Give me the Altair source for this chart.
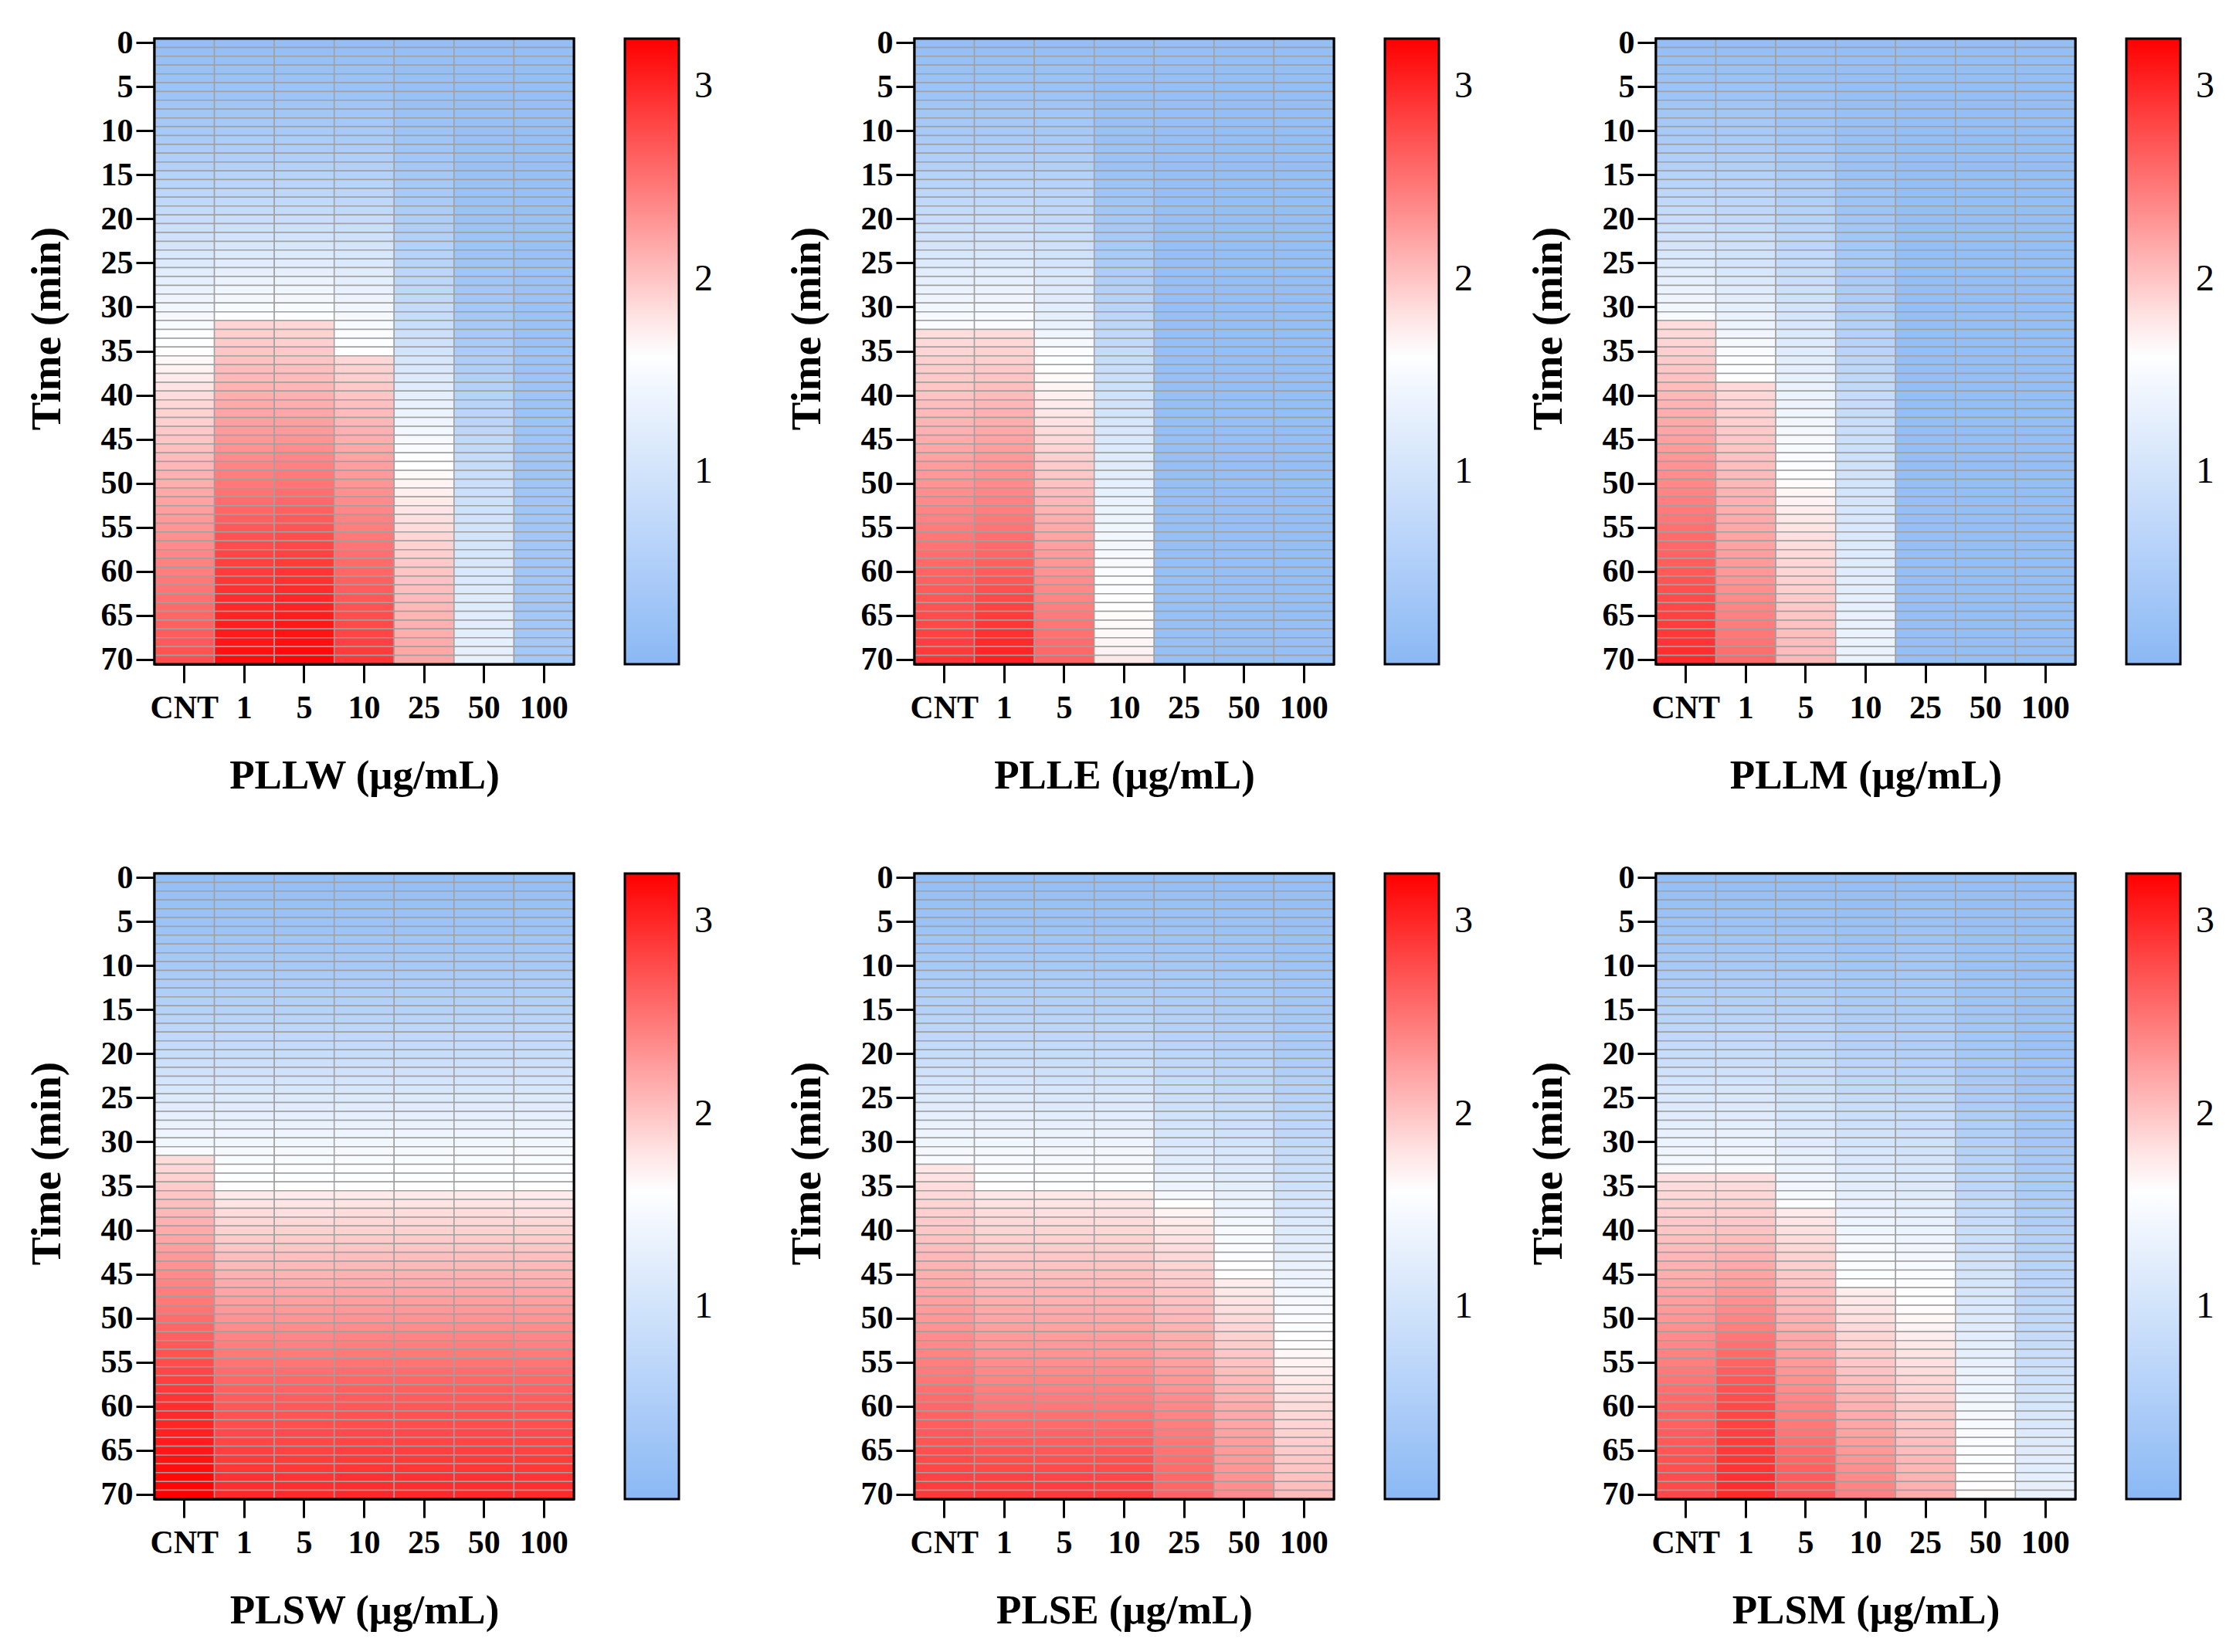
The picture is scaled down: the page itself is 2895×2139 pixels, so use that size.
import pandas as pd
import altair as alt

# Time axis (min) and concentrations (µg/mL)
TIMES = [
    0, 1, 2, 3, 4, 5, 6, 7, 8, 9, 10, 11, 12, 13, 14, 15, 16, 17, 18, 19,
    20, 21, 22, 23, 24, 25, 26, 27, 28, 29, 30, 31, 32, 33, 34, 35, 36, 37, 38, 39,
    40, 41, 42, 43, 44, 45, 46, 47, 48, 49, 50, 51, 52, 53, 54, 55, 56, 57, 58, 59,
    60, 61, 62, 63, 64, 65, 66, 67, 68, 69, 70,
]
TIME_TICKS = [0, 5, 10, 15, 20, 25, 30, 35, 40, 45, 50, 55, 60, 65, 70]
CONCS = ["CNT", "1", "5", "10", "25", "50", "100"]
LEGEND_TICKS = [1, 2, 3]

# Values per panel: one list per concentration (CNT, 1, 5, 10, 25, 50, 100), 0..70 min
PLLW = [
    [0.14, 0.16, 0.18, 0.20, 0.22, 0.25, 0.28, 0.31, 0.34, 0.37,
     0.40, 0.44, 0.48, 0.52, 0.56, 0.60, 0.65, 0.70, 0.75, 0.80,
     0.85, 0.91, 0.97, 1.03, 1.09, 1.15, 1.21, 1.27, 1.33, 1.39,
     1.45, 1.49, 1.53, 1.57, 1.60, 1.63, 1.67, 1.71, 1.75, 1.80,
     1.85, 1.88, 1.91, 1.94, 1.97, 2.00, 2.03, 2.06, 2.09, 2.12,
     2.15, 2.18, 2.21, 2.24, 2.27, 2.30, 2.33, 2.36, 2.39, 2.42,
     2.45, 2.48, 2.51, 2.54, 2.57, 2.60, 2.63, 2.66, 2.69, 2.72,
     2.75],
    [0.14, 0.16, 0.18, 0.20, 0.22, 0.25, 0.28, 0.31, 0.34, 0.37,
     0.41, 0.45, 0.49, 0.53, 0.57, 0.61, 0.66, 0.71, 0.76, 0.81,
     0.86, 0.93, 1.00, 1.07, 1.14, 1.21, 1.28, 1.35, 1.41, 1.47,
     1.52, 1.58, 1.90, 1.93, 1.96, 1.99, 2.02, 2.05, 2.08, 2.11,
     2.14, 2.17, 2.20, 2.23, 2.26, 2.29, 2.32, 2.36, 2.40, 2.44,
     2.48, 2.52, 2.56, 2.60, 2.64, 2.68, 2.72, 2.76, 2.80, 2.84,
     2.87, 2.90, 2.93, 2.96, 2.99, 3.02, 3.05, 3.08, 3.11, 3.14,
     3.17],
    [0.14, 0.16, 0.18, 0.20, 0.22, 0.25, 0.28, 0.31, 0.34, 0.37,
     0.41, 0.45, 0.49, 0.53, 0.57, 0.61, 0.66, 0.71, 0.76, 0.81,
     0.86, 0.93, 1.00, 1.07, 1.14, 1.21, 1.28, 1.35, 1.41, 1.47,
     1.52, 1.57, 1.88, 1.91, 1.94, 1.97, 2.00, 2.03, 2.06, 2.09,
     2.12, 2.15, 2.19, 2.23, 2.27, 2.31, 2.35, 2.39, 2.43, 2.47,
     2.51, 2.55, 2.59, 2.63, 2.67, 2.71, 2.75, 2.79, 2.83, 2.87,
     2.91, 2.94, 2.97, 3.00, 3.03, 3.06, 3.09, 3.12, 3.15, 3.18,
     3.21],
    [0.14, 0.16, 0.18, 0.20, 0.22, 0.24, 0.27, 0.30, 0.33, 0.36,
     0.39, 0.43, 0.47, 0.51, 0.55, 0.59, 0.63, 0.68, 0.73, 0.78,
     0.83, 0.89, 0.95, 1.01, 1.07, 1.13, 1.19, 1.25, 1.31, 1.37,
     1.43, 1.48, 1.52, 1.56, 1.59, 1.62, 1.88, 1.91, 1.94, 1.97,
     2.00, 2.03, 2.06, 2.09, 2.12, 2.15, 2.18, 2.21, 2.24, 2.27,
     2.30, 2.33, 2.36, 2.39, 2.42, 2.45, 2.48, 2.51, 2.54, 2.57,
     2.60, 2.63, 2.66, 2.69, 2.72, 2.75, 2.78, 2.81, 2.84, 2.87,
     2.90],
    [0.14, 0.15, 0.16, 0.17, 0.18, 0.19, 0.20, 0.21, 0.23, 0.25,
     0.27, 0.29, 0.31, 0.33, 0.35, 0.37, 0.39, 0.41, 0.44, 0.47,
     0.50, 0.53, 0.56, 0.59, 0.62, 0.65, 0.68, 0.71, 0.74, 0.77,
     0.80, 0.84, 0.88, 0.92, 0.96, 1.00, 1.05, 1.10, 1.15, 1.20,
     1.25, 1.30, 1.35, 1.40, 1.45, 1.50, 1.54, 1.58, 1.62, 1.66,
     1.70, 1.73, 1.76, 1.79, 1.82, 1.85, 1.88, 1.91, 1.94, 1.97,
     2.00, 2.02, 2.04, 2.06, 2.08, 2.10, 2.12, 2.14, 2.16, 2.18,
     2.20],
    [0.14, 0.14, 0.15, 0.15, 0.16, 0.16, 0.17, 0.17, 0.18, 0.18,
     0.19, 0.19, 0.20, 0.20, 0.21, 0.21, 0.22, 0.22, 0.23, 0.23,
     0.24, 0.25, 0.26, 0.27, 0.28, 0.29, 0.30, 0.31, 0.32, 0.33,
     0.35, 0.37, 0.39, 0.41, 0.43, 0.45, 0.48, 0.51, 0.54, 0.57,
     0.60, 0.63, 0.66, 0.69, 0.72, 0.75, 0.78, 0.81, 0.84, 0.87,
     0.90, 0.92, 0.94, 0.96, 0.98, 1.00, 1.02, 1.04, 1.06, 1.08,
     1.10, 1.12, 1.14, 1.16, 1.18, 1.20, 1.22, 1.24, 1.26, 1.28,
     1.30],
    [0.13, 0.13, 0.14, 0.14, 0.14, 0.15, 0.15, 0.15, 0.16, 0.16,
     0.16, 0.17, 0.17, 0.17, 0.18, 0.18, 0.18, 0.19, 0.19, 0.19,
     0.20, 0.20, 0.20, 0.21, 0.21, 0.21, 0.22, 0.22, 0.22, 0.23,
     0.23, 0.23, 0.24, 0.24, 0.24, 0.25, 0.25, 0.25, 0.26, 0.26,
     0.26, 0.27, 0.27, 0.27, 0.28, 0.28, 0.28, 0.29, 0.29, 0.29,
     0.30, 0.30, 0.30, 0.31, 0.31, 0.31, 0.32, 0.32, 0.32, 0.33,
     0.33, 0.33, 0.34, 0.34, 0.34, 0.35, 0.35, 0.35, 0.36, 0.36,
     0.36],
]

PLLE = [
    [0.14, 0.16, 0.18, 0.20, 0.22, 0.25, 0.28, 0.31, 0.34, 0.37,
     0.40, 0.44, 0.48, 0.52, 0.56, 0.60, 0.65, 0.70, 0.75, 0.80,
     0.85, 0.91, 0.97, 1.03, 1.09, 1.15, 1.21, 1.27, 1.33, 1.39,
     1.45, 1.50, 1.55, 1.84, 1.87, 1.90, 1.93, 1.95, 1.97, 1.99,
     2.01, 2.04, 2.07, 2.10, 2.13, 2.16, 2.19, 2.22, 2.25, 2.28,
     2.31, 2.34, 2.37, 2.40, 2.43, 2.46, 2.49, 2.52, 2.55, 2.58,
     2.61, 2.64, 2.67, 2.70, 2.73, 2.76, 2.79, 2.82, 2.85, 2.88,
     2.91],
    [0.14, 0.16, 0.18, 0.20, 0.22, 0.25, 0.28, 0.31, 0.34, 0.37,
     0.40, 0.44, 0.48, 0.52, 0.56, 0.60, 0.65, 0.70, 0.75, 0.80,
     0.85, 0.91, 0.97, 1.03, 1.09, 1.15, 1.21, 1.27, 1.33, 1.39,
     1.45, 1.50, 1.55, 1.85, 1.88, 1.91, 1.94, 1.97, 2.00, 2.03,
     2.06, 2.09, 2.12, 2.15, 2.18, 2.21, 2.24, 2.27, 2.30, 2.33,
     2.36, 2.39, 2.42, 2.45, 2.48, 2.51, 2.54, 2.57, 2.60, 2.63,
     2.66, 2.70, 2.74, 2.78, 2.82, 2.86, 2.90, 2.94, 2.98, 3.01,
     3.04],
    [0.14, 0.16, 0.18, 0.20, 0.22, 0.24, 0.26, 0.29, 0.32, 0.35,
     0.38, 0.42, 0.46, 0.50, 0.54, 0.58, 0.62, 0.66, 0.70, 0.74,
     0.78, 0.83, 0.88, 0.93, 0.98, 1.03, 1.08, 1.12, 1.16, 1.19,
     1.22, 1.27, 1.32, 1.40, 1.48, 1.55, 1.60, 1.63, 1.66, 1.69,
     1.72, 1.75, 1.78, 1.81, 1.84, 1.87, 1.90, 1.93, 1.96, 1.99,
     2.02, 2.05, 2.08, 2.11, 2.14, 2.17, 2.20, 2.23, 2.26, 2.29,
     2.32, 2.35, 2.38, 2.41, 2.44, 2.47, 2.50, 2.53, 2.56, 2.59,
     2.62],
    [0.14, 0.14, 0.15, 0.15, 0.16, 0.16, 0.17, 0.17, 0.18, 0.19,
     0.20, 0.21, 0.22, 0.23, 0.24, 0.25, 0.27, 0.29, 0.31, 0.33,
     0.35, 0.37, 0.39, 0.41, 0.43, 0.46, 0.49, 0.52, 0.56, 0.60,
     0.64, 0.68, 0.72, 0.75, 0.78, 0.81, 0.84, 0.87, 0.90, 0.93,
     0.96, 0.99, 1.02, 1.05, 1.08, 1.11, 1.14, 1.17, 1.20, 1.23,
     1.26, 1.29, 1.32, 1.35, 1.38, 1.41, 1.44, 1.47, 1.50, 1.53,
     1.55, 1.57, 1.59, 1.61, 1.63, 1.65, 1.66, 1.67, 1.69, 1.71,
     1.78],
    [0.15, 0.15, 0.15, 0.15, 0.15, 0.15, 0.15, 0.15, 0.15, 0.15,
     0.15, 0.15, 0.15, 0.15, 0.15, 0.15, 0.15, 0.15, 0.15, 0.15,
     0.15, 0.15, 0.15, 0.15, 0.15, 0.15, 0.15, 0.15, 0.15, 0.15,
     0.15, 0.15, 0.15, 0.15, 0.15, 0.15, 0.15, 0.16, 0.16, 0.16,
     0.16, 0.16, 0.16, 0.16, 0.16, 0.16, 0.16, 0.16, 0.16, 0.16,
     0.17, 0.17, 0.17, 0.17, 0.17, 0.17, 0.17, 0.17, 0.17, 0.17,
     0.18, 0.18, 0.18, 0.18, 0.18, 0.18, 0.18, 0.18, 0.18, 0.18,
     0.18],
    [0.14, 0.14, 0.14, 0.14, 0.14, 0.14, 0.14, 0.14, 0.14, 0.14,
     0.14, 0.14, 0.14, 0.14, 0.14, 0.14, 0.14, 0.14, 0.14, 0.14,
     0.14, 0.14, 0.14, 0.14, 0.14, 0.14, 0.14, 0.14, 0.14, 0.14,
     0.14, 0.14, 0.14, 0.14, 0.14, 0.14, 0.14, 0.14, 0.14, 0.14,
     0.14, 0.15, 0.15, 0.15, 0.15, 0.15, 0.15, 0.15, 0.15, 0.15,
     0.15, 0.15, 0.15, 0.15, 0.15, 0.15, 0.15, 0.15, 0.15, 0.15,
     0.15, 0.15, 0.15, 0.15, 0.16, 0.16, 0.16, 0.16, 0.16, 0.16,
     0.16],
    [0.13, 0.13, 0.13, 0.13, 0.13, 0.13, 0.13, 0.13, 0.13, 0.13,
     0.13, 0.13, 0.13, 0.13, 0.13, 0.13, 0.13, 0.13, 0.13, 0.13,
     0.13, 0.13, 0.13, 0.13, 0.13, 0.13, 0.13, 0.13, 0.13, 0.13,
     0.13, 0.13, 0.13, 0.13, 0.13, 0.13, 0.13, 0.13, 0.13, 0.13,
     0.13, 0.13, 0.13, 0.13, 0.13, 0.14, 0.14, 0.14, 0.14, 0.14,
     0.14, 0.14, 0.14, 0.14, 0.14, 0.14, 0.14, 0.14, 0.14, 0.14,
     0.14, 0.14, 0.14, 0.14, 0.14, 0.14, 0.15, 0.15, 0.15, 0.15,
     0.15],
]

PLLM = [
    [0.14, 0.16, 0.18, 0.20, 0.22, 0.25, 0.28, 0.31, 0.34, 0.37,
     0.40, 0.44, 0.48, 0.52, 0.56, 0.60, 0.65, 0.70, 0.75, 0.80,
     0.85, 0.91, 0.97, 1.03, 1.09, 1.15, 1.21, 1.27, 1.33, 1.39,
     1.45, 1.52, 1.84, 1.87, 1.90, 1.93, 1.96, 1.99, 2.02, 2.05,
     2.08, 2.11, 2.14, 2.17, 2.20, 2.23, 2.26, 2.29, 2.32, 2.35,
     2.38, 2.41, 2.44, 2.47, 2.50, 2.53, 2.56, 2.59, 2.62, 2.65,
     2.68, 2.71, 2.74, 2.77, 2.80, 2.83, 2.86, 2.89, 2.92, 2.95,
     2.98],
    [0.14, 0.16, 0.18, 0.20, 0.22, 0.25, 0.28, 0.31, 0.34, 0.37,
     0.40, 0.43, 0.46, 0.50, 0.54, 0.58, 0.62, 0.66, 0.70, 0.74,
     0.78, 0.83, 0.88, 0.93, 0.98, 1.03, 1.08, 1.13, 1.18, 1.23,
     1.28, 1.33, 1.38, 1.43, 1.48, 1.53, 1.57, 1.60, 1.63, 1.86,
     1.88, 1.90, 1.92, 1.94, 1.96, 1.98, 2.00, 2.02, 2.04, 2.06,
     2.08, 2.10, 2.12, 2.14, 2.16, 2.18, 2.20, 2.22, 2.24, 2.26,
     2.28, 2.31, 2.34, 2.37, 2.40, 2.43, 2.46, 2.49, 2.52, 2.55,
     2.58],
    [0.14, 0.15, 0.16, 0.17, 0.18, 0.20, 0.22, 0.24, 0.26, 0.28,
     0.30, 0.33, 0.36, 0.39, 0.42, 0.45, 0.48, 0.51, 0.54, 0.57,
     0.60, 0.64, 0.68, 0.72, 0.76, 0.80, 0.84, 0.88, 0.92, 0.96,
     1.00, 1.04, 1.08, 1.12, 1.16, 1.20, 1.23, 1.26, 1.29, 1.32,
     1.35, 1.38, 1.41, 1.44, 1.47, 1.50, 1.53, 1.56, 1.59, 1.62,
     1.65, 1.68, 1.71, 1.74, 1.77, 1.80, 1.82, 1.84, 1.86, 1.88,
     1.90, 1.92, 1.94, 1.96, 1.98, 2.00, 2.02, 2.04, 2.05, 2.06,
     2.08],
    [0.14, 0.14, 0.15, 0.15, 0.16, 0.16, 0.17, 0.17, 0.18, 0.18,
     0.19, 0.20, 0.21, 0.22, 0.23, 0.24, 0.25, 0.26, 0.27, 0.28,
     0.30, 0.32, 0.34, 0.36, 0.38, 0.40, 0.42, 0.44, 0.46, 0.48,
     0.50, 0.53, 0.56, 0.59, 0.62, 0.65, 0.68, 0.71, 0.74, 0.77,
     0.80, 0.82, 0.84, 0.86, 0.88, 0.90, 0.92, 0.94, 0.96, 0.98,
     1.00, 1.02, 1.04, 1.06, 1.08, 1.10, 1.12, 1.14, 1.16, 1.18,
     1.20, 1.22, 1.24, 1.26, 1.28, 1.30, 1.31, 1.32, 1.33, 1.34,
     1.35],
    [0.14, 0.14, 0.14, 0.14, 0.14, 0.14, 0.14, 0.14, 0.14, 0.14,
     0.14, 0.14, 0.14, 0.14, 0.14, 0.14, 0.14, 0.14, 0.14, 0.14,
     0.14, 0.14, 0.14, 0.14, 0.14, 0.14, 0.14, 0.14, 0.14, 0.14,
     0.14, 0.14, 0.14, 0.14, 0.14, 0.14, 0.14, 0.14, 0.14, 0.14,
     0.14, 0.14, 0.14, 0.14, 0.14, 0.14, 0.14, 0.14, 0.14, 0.14,
     0.15, 0.15, 0.15, 0.15, 0.15, 0.15, 0.15, 0.15, 0.15, 0.15,
     0.15, 0.15, 0.15, 0.15, 0.15, 0.15, 0.15, 0.15, 0.15, 0.15,
     0.15],
    [0.13, 0.13, 0.13, 0.13, 0.13, 0.13, 0.13, 0.13, 0.13, 0.13,
     0.13, 0.13, 0.13, 0.13, 0.13, 0.13, 0.13, 0.13, 0.13, 0.13,
     0.13, 0.13, 0.13, 0.13, 0.13, 0.13, 0.13, 0.13, 0.13, 0.13,
     0.13, 0.13, 0.13, 0.13, 0.13, 0.13, 0.13, 0.13, 0.13, 0.13,
     0.13, 0.13, 0.13, 0.13, 0.13, 0.13, 0.13, 0.13, 0.13, 0.13,
     0.13, 0.13, 0.13, 0.13, 0.13, 0.14, 0.14, 0.14, 0.14, 0.14,
     0.14, 0.14, 0.14, 0.14, 0.14, 0.14, 0.14, 0.14, 0.14, 0.14,
     0.14],
    [0.13, 0.13, 0.13, 0.13, 0.13, 0.13, 0.13, 0.13, 0.13, 0.13,
     0.13, 0.13, 0.13, 0.13, 0.13, 0.13, 0.13, 0.13, 0.13, 0.13,
     0.13, 0.13, 0.13, 0.13, 0.13, 0.13, 0.13, 0.13, 0.13, 0.13,
     0.13, 0.13, 0.13, 0.13, 0.13, 0.13, 0.13, 0.13, 0.13, 0.13,
     0.13, 0.13, 0.13, 0.13, 0.13, 0.13, 0.13, 0.13, 0.13, 0.13,
     0.13, 0.13, 0.13, 0.13, 0.13, 0.13, 0.13, 0.13, 0.13, 0.13,
     0.13, 0.13, 0.13, 0.13, 0.13, 0.14, 0.14, 0.14, 0.14, 0.14,
     0.14],
]

PLSW = [
    [0.14, 0.16, 0.18, 0.20, 0.22, 0.25, 0.28, 0.31, 0.34, 0.37,
     0.40, 0.44, 0.48, 0.52, 0.56, 0.60, 0.65, 0.70, 0.75, 0.80,
     0.85, 0.91, 0.97, 1.03, 1.09, 1.15, 1.21, 1.27, 1.33, 1.39,
     1.45, 1.52, 1.84, 1.88, 1.92, 1.96, 2.00, 2.04, 2.08, 2.12,
     2.16, 2.20, 2.24, 2.28, 2.32, 2.36, 2.40, 2.44, 2.48, 2.52,
     2.56, 2.60, 2.64, 2.68, 2.72, 2.76, 2.80, 2.84, 2.88, 2.92,
     2.95, 2.98, 3.01, 3.04, 3.07, 3.10, 3.13, 3.16, 3.19, 3.22,
     3.25],
    [0.14, 0.16, 0.18, 0.20, 0.22, 0.25, 0.28, 0.31, 0.34, 0.37,
     0.40, 0.44, 0.48, 0.52, 0.56, 0.60, 0.65, 0.70, 0.75, 0.80,
     0.85, 0.91, 0.97, 1.03, 1.09, 1.15, 1.21, 1.27, 1.33, 1.39,
     1.45, 1.49, 1.53, 1.57, 1.60, 1.63, 1.76, 1.80, 1.84, 1.88,
     1.92, 1.96, 2.00, 2.04, 2.08, 2.12, 2.16, 2.20, 2.24, 2.28,
     2.32, 2.36, 2.40, 2.44, 2.48, 2.52, 2.56, 2.60, 2.63, 2.66,
     2.69, 2.72, 2.75, 2.78, 2.81, 2.84, 2.87, 2.90, 2.93, 2.96,
     2.99],
    [0.14, 0.16, 0.18, 0.20, 0.22, 0.25, 0.28, 0.31, 0.34, 0.37,
     0.40, 0.44, 0.48, 0.52, 0.56, 0.60, 0.65, 0.70, 0.75, 0.80,
     0.85, 0.91, 0.97, 1.03, 1.09, 1.15, 1.21, 1.27, 1.33, 1.39,
     1.45, 1.49, 1.53, 1.57, 1.60, 1.63, 1.75, 1.79, 1.83, 1.87,
     1.91, 1.95, 1.99, 2.03, 2.07, 2.11, 2.15, 2.19, 2.23, 2.27,
     2.31, 2.35, 2.39, 2.43, 2.47, 2.51, 2.55, 2.59, 2.62, 2.65,
     2.68, 2.71, 2.74, 2.77, 2.80, 2.83, 2.86, 2.89, 2.92, 2.95,
     2.98],
    [0.14, 0.16, 0.18, 0.20, 0.22, 0.25, 0.28, 0.31, 0.34, 0.37,
     0.40, 0.44, 0.48, 0.52, 0.56, 0.60, 0.65, 0.70, 0.75, 0.80,
     0.85, 0.91, 0.97, 1.03, 1.09, 1.15, 1.21, 1.27, 1.33, 1.39,
     1.45, 1.49, 1.53, 1.57, 1.60, 1.63, 1.76, 1.80, 1.84, 1.88,
     1.92, 1.96, 2.00, 2.04, 2.08, 2.12, 2.16, 2.20, 2.24, 2.28,
     2.32, 2.36, 2.40, 2.44, 2.48, 2.52, 2.56, 2.60, 2.63, 2.66,
     2.69, 2.72, 2.75, 2.78, 2.81, 2.84, 2.87, 2.90, 2.93, 2.96,
     2.99],
    [0.14, 0.16, 0.18, 0.20, 0.22, 0.25, 0.28, 0.31, 0.34, 0.37,
     0.40, 0.44, 0.48, 0.52, 0.56, 0.60, 0.65, 0.70, 0.75, 0.80,
     0.85, 0.91, 0.97, 1.03, 1.09, 1.15, 1.21, 1.27, 1.33, 1.39,
     1.45, 1.49, 1.53, 1.57, 1.60, 1.63, 1.76, 1.80, 1.84, 1.88,
     1.92, 1.96, 2.00, 2.04, 2.08, 2.12, 2.16, 2.20, 2.24, 2.28,
     2.32, 2.36, 2.40, 2.44, 2.48, 2.52, 2.56, 2.60, 2.63, 2.66,
     2.69, 2.72, 2.75, 2.78, 2.81, 2.84, 2.87, 2.90, 2.93, 2.96,
     2.99],
    [0.14, 0.16, 0.18, 0.20, 0.22, 0.25, 0.28, 0.31, 0.34, 0.37,
     0.40, 0.44, 0.48, 0.52, 0.56, 0.60, 0.65, 0.70, 0.75, 0.80,
     0.85, 0.91, 0.97, 1.03, 1.09, 1.15, 1.21, 1.27, 1.33, 1.39,
     1.45, 1.49, 1.53, 1.57, 1.60, 1.63, 1.76, 1.80, 1.84, 1.88,
     1.92, 1.96, 2.00, 2.04, 2.08, 2.12, 2.16, 2.20, 2.24, 2.28,
     2.32, 2.36, 2.40, 2.44, 2.48, 2.52, 2.56, 2.60, 2.63, 2.66,
     2.69, 2.72, 2.75, 2.78, 2.81, 2.84, 2.87, 2.90, 2.93, 2.96,
     2.99],
    [0.14, 0.16, 0.18, 0.20, 0.22, 0.25, 0.28, 0.31, 0.34, 0.37,
     0.40, 0.44, 0.48, 0.52, 0.56, 0.60, 0.65, 0.70, 0.75, 0.80,
     0.85, 0.91, 0.97, 1.03, 1.09, 1.15, 1.21, 1.27, 1.33, 1.39,
     1.45, 1.49, 1.53, 1.57, 1.60, 1.63, 1.75, 1.79, 1.83, 1.87,
     1.91, 1.95, 1.99, 2.03, 2.07, 2.11, 2.15, 2.19, 2.23, 2.27,
     2.31, 2.35, 2.39, 2.43, 2.47, 2.51, 2.55, 2.59, 2.62, 2.65,
     2.68, 2.71, 2.74, 2.77, 2.80, 2.83, 2.86, 2.89, 2.92, 2.95,
     2.98],
]

PLSE = [
    [0.14, 0.16, 0.18, 0.20, 0.22, 0.24, 0.27, 0.30, 0.33, 0.36,
     0.39, 0.43, 0.47, 0.51, 0.55, 0.59, 0.64, 0.69, 0.74, 0.79,
     0.84, 0.90, 0.96, 1.02, 1.08, 1.14, 1.20, 1.26, 1.32, 1.37,
     1.42, 1.47, 1.52, 1.78, 1.81, 1.84, 1.87, 1.90, 1.93, 1.96,
     1.99, 2.02, 2.05, 2.08, 2.11, 2.14, 2.17, 2.20, 2.23, 2.26,
     2.29, 2.32, 2.35, 2.38, 2.41, 2.44, 2.47, 2.50, 2.53, 2.56,
     2.59, 2.62, 2.65, 2.68, 2.71, 2.74, 2.77, 2.80, 2.83, 2.86,
     2.89],
    [0.14, 0.16, 0.18, 0.20, 0.22, 0.24, 0.27, 0.30, 0.33, 0.36,
     0.39, 0.43, 0.47, 0.51, 0.55, 0.59, 0.64, 0.69, 0.74, 0.79,
     0.84, 0.90, 0.96, 1.02, 1.08, 1.14, 1.20, 1.26, 1.31, 1.36,
     1.41, 1.46, 1.51, 1.55, 1.58, 1.61, 1.78, 1.81, 1.84, 1.87,
     1.90, 1.93, 1.96, 1.99, 2.02, 2.05, 2.08, 2.11, 2.14, 2.17,
     2.20, 2.23, 2.26, 2.29, 2.32, 2.35, 2.38, 2.41, 2.44, 2.47,
     2.50, 2.54, 2.58, 2.62, 2.66, 2.70, 2.74, 2.78, 2.82, 2.86,
     2.90],
    [0.14, 0.16, 0.18, 0.20, 0.22, 0.24, 0.27, 0.30, 0.33, 0.36,
     0.39, 0.43, 0.47, 0.51, 0.55, 0.59, 0.64, 0.69, 0.74, 0.79,
     0.84, 0.89, 0.94, 0.99, 1.05, 1.11, 1.17, 1.23, 1.29, 1.35,
     1.40, 1.45, 1.50, 1.54, 1.57, 1.60, 1.77, 1.80, 1.83, 1.86,
     1.89, 1.92, 1.95, 1.98, 2.01, 2.04, 2.07, 2.10, 2.13, 2.16,
     2.19, 2.22, 2.25, 2.28, 2.31, 2.34, 2.37, 2.40, 2.43, 2.46,
     2.49, 2.53, 2.57, 2.61, 2.65, 2.69, 2.73, 2.77, 2.81, 2.85,
     2.88],
    [0.14, 0.16, 0.18, 0.20, 0.22, 0.24, 0.26, 0.29, 0.32, 0.35,
     0.38, 0.42, 0.46, 0.50, 0.54, 0.58, 0.63, 0.68, 0.73, 0.78,
     0.83, 0.88, 0.93, 0.98, 1.04, 1.10, 1.16, 1.22, 1.28, 1.34,
     1.39, 1.44, 1.49, 1.53, 1.57, 1.60, 1.76, 1.79, 1.82, 1.85,
     1.88, 1.91, 1.94, 1.97, 2.00, 2.03, 2.06, 2.09, 2.12, 2.15,
     2.18, 2.21, 2.24, 2.27, 2.30, 2.33, 2.36, 2.39, 2.42, 2.45,
     2.48, 2.52, 2.56, 2.60, 2.64, 2.68, 2.72, 2.76, 2.80, 2.83,
     2.86],
    [0.14, 0.16, 0.18, 0.20, 0.22, 0.24, 0.26, 0.28, 0.31, 0.34,
     0.37, 0.40, 0.43, 0.46, 0.49, 0.52, 0.55, 0.58, 0.62, 0.66,
     0.70, 0.74, 0.78, 0.82, 0.86, 0.90, 0.94, 0.98, 1.02, 1.06,
     1.10, 1.15, 1.20, 1.26, 1.32, 1.38, 1.48, 1.62, 1.70, 1.75,
     1.78, 1.81, 1.84, 1.87, 1.90, 1.93, 1.96, 1.99, 2.02, 2.05,
     2.08, 2.11, 2.14, 2.17, 2.20, 2.23, 2.26, 2.29, 2.32, 2.35,
     2.38, 2.41, 2.44, 2.47, 2.50, 2.52, 2.54, 2.56, 2.58, 2.60,
     2.62],
    [0.14, 0.15, 0.16, 0.18, 0.20, 0.22, 0.24, 0.26, 0.28, 0.30,
     0.32, 0.35, 0.38, 0.41, 0.44, 0.47, 0.50, 0.53, 0.56, 0.58,
     0.60, 0.64, 0.68, 0.72, 0.76, 0.80, 0.84, 0.88, 0.92, 0.96,
     1.00, 1.05, 1.10, 1.15, 1.20, 1.25, 1.30, 1.35, 1.40, 1.45,
     1.50, 1.53, 1.56, 1.59, 1.61, 1.63, 1.74, 1.77, 1.80, 1.83,
     1.86, 1.89, 1.92, 1.95, 1.98, 2.01, 2.04, 2.07, 2.10, 2.13,
     2.16, 2.18, 2.20, 2.22, 2.24, 2.26, 2.28, 2.30, 2.32, 2.34,
     2.36],
    [0.14, 0.15, 0.16, 0.17, 0.18, 0.19, 0.20, 0.21, 0.22, 0.24,
     0.26, 0.28, 0.30, 0.32, 0.34, 0.36, 0.38, 0.40, 0.42, 0.44,
     0.46, 0.49, 0.52, 0.55, 0.58, 0.61, 0.64, 0.67, 0.70, 0.73,
     0.76, 0.80, 0.84, 0.88, 0.92, 0.96, 1.00, 1.04, 1.08, 1.12,
     1.16, 1.20, 1.24, 1.28, 1.32, 1.36, 1.40, 1.44, 1.48, 1.52,
     1.55, 1.58, 1.61, 1.64, 1.67, 1.70, 1.73, 1.76, 1.79, 1.82,
     1.85, 1.88, 1.90, 1.92, 1.94, 1.96, 1.98, 2.00, 2.02, 2.04,
     2.06],
]

PLSM = [
    [0.14, 0.16, 0.18, 0.20, 0.22, 0.25, 0.28, 0.31, 0.34, 0.37,
     0.40, 0.44, 0.48, 0.52, 0.56, 0.60, 0.65, 0.70, 0.75, 0.80,
     0.85, 0.90, 0.95, 1.00, 1.05, 1.10, 1.15, 1.20, 1.25, 1.30,
     1.35, 1.40, 1.45, 1.52, 1.82, 1.85, 1.88, 1.91, 1.94, 1.97,
     2.00, 2.03, 2.06, 2.09, 2.12, 2.15, 2.18, 2.21, 2.24, 2.27,
     2.30, 2.33, 2.36, 2.39, 2.42, 2.45, 2.48, 2.51, 2.54, 2.57,
     2.60, 2.62, 2.64, 2.66, 2.68, 2.70, 2.72, 2.74, 2.76, 2.78,
     2.80],
    [0.14, 0.16, 0.18, 0.20, 0.22, 0.25, 0.28, 0.31, 0.34, 0.37,
     0.40, 0.44, 0.48, 0.52, 0.56, 0.60, 0.65, 0.70, 0.75, 0.80,
     0.85, 0.90, 0.95, 1.00, 1.05, 1.10, 1.15, 1.20, 1.25, 1.30,
     1.35, 1.40, 1.45, 1.52, 1.82, 1.85, 1.88, 1.91, 1.94, 1.97,
     2.01, 2.05, 2.09, 2.13, 2.17, 2.21, 2.25, 2.29, 2.33, 2.37,
     2.41, 2.45, 2.49, 2.53, 2.57, 2.61, 2.65, 2.69, 2.72, 2.75,
     2.78, 2.80, 2.82, 2.84, 2.86, 2.88, 2.90, 2.92, 2.94, 2.96,
     2.98],
    [0.14, 0.16, 0.18, 0.20, 0.22, 0.24, 0.26, 0.29, 0.32, 0.35,
     0.38, 0.42, 0.46, 0.50, 0.54, 0.58, 0.62, 0.66, 0.70, 0.74,
     0.78, 0.82, 0.86, 0.90, 0.94, 0.98, 1.02, 1.06, 1.10, 1.15,
     1.20, 1.25, 1.30, 1.35, 1.40, 1.45, 1.50, 1.58, 1.76, 1.79,
     1.82, 1.85, 1.88, 1.91, 1.94, 1.97, 2.00, 2.03, 2.06, 2.09,
     2.12, 2.15, 2.18, 2.21, 2.24, 2.27, 2.30, 2.33, 2.36, 2.39,
     2.42, 2.45, 2.48, 2.51, 2.54, 2.57, 2.60, 2.63, 2.66, 2.69,
     2.72],
    [0.14, 0.15, 0.16, 0.17, 0.18, 0.20, 0.22, 0.24, 0.26, 0.29,
     0.32, 0.35, 0.38, 0.41, 0.44, 0.47, 0.50, 0.53, 0.56, 0.59,
     0.62, 0.66, 0.70, 0.74, 0.78, 0.82, 0.86, 0.90, 0.94, 0.98,
     1.02, 1.06, 1.10, 1.14, 1.18, 1.22, 1.26, 1.30, 1.34, 1.38,
     1.42, 1.46, 1.50, 1.53, 1.56, 1.59, 1.62, 1.74, 1.77, 1.80,
     1.83, 1.86, 1.89, 1.92, 1.95, 1.98, 2.01, 2.04, 2.07, 2.10,
     2.13, 2.16, 2.19, 2.22, 2.25, 2.28, 2.31, 2.34, 2.37, 2.40,
     2.43],
    [0.14, 0.16, 0.18, 0.20, 0.22, 0.24, 0.26, 0.28, 0.30, 0.32,
     0.35, 0.37, 0.39, 0.41, 0.43, 0.45, 0.47, 0.49, 0.51, 0.53,
     0.55, 0.59, 0.63, 0.67, 0.71, 0.75, 0.79, 0.83, 0.87, 0.91,
     0.95, 0.99, 1.03, 1.07, 1.11, 1.15, 1.19, 1.23, 1.27, 1.31,
     1.35, 1.39, 1.43, 1.47, 1.51, 1.55, 1.58, 1.61, 1.63, 1.65,
     1.68, 1.71, 1.74, 1.77, 1.80, 1.82, 1.85, 1.88, 1.90, 1.92,
     1.95, 1.97, 1.99, 2.01, 2.03, 2.05, 2.07, 2.09, 2.11, 2.13,
     2.15],
    [0.14, 0.15, 0.16, 0.17, 0.18, 0.19, 0.20, 0.21, 0.22, 0.23,
     0.24, 0.25, 0.26, 0.27, 0.28, 0.30, 0.31, 0.32, 0.33, 0.35,
     0.36, 0.38, 0.40, 0.42, 0.44, 0.46, 0.48, 0.50, 0.52, 0.54,
     0.56, 0.59, 0.62, 0.65, 0.68, 0.71, 0.74, 0.77, 0.80, 0.83,
     0.86, 0.89, 0.92, 0.95, 0.98, 1.01, 1.04, 1.07, 1.10, 1.13,
     1.16, 1.19, 1.22, 1.25, 1.28, 1.31, 1.34, 1.37, 1.40, 1.43,
     1.46, 1.49, 1.52, 1.54, 1.56, 1.58, 1.60, 1.62, 1.63, 1.64,
     1.66],
    [0.14, 0.14, 0.15, 0.15, 0.16, 0.16, 0.17, 0.17, 0.18, 0.18,
     0.19, 0.19, 0.20, 0.20, 0.21, 0.21, 0.22, 0.22, 0.23, 0.24,
     0.25, 0.26, 0.27, 0.28, 0.29, 0.30, 0.31, 0.32, 0.33, 0.34,
     0.35, 0.37, 0.39, 0.41, 0.43, 0.45, 0.47, 0.49, 0.51, 0.53,
     0.55, 0.57, 0.59, 0.61, 0.63, 0.65, 0.67, 0.69, 0.71, 0.73,
     0.75, 0.78, 0.81, 0.84, 0.87, 0.90, 0.93, 0.96, 0.99, 1.02,
     1.05, 1.08, 1.11, 1.14, 1.17, 1.20, 1.22, 1.24, 1.26, 1.28,
     1.30],
]

FONT = "Liberation Serif"
PLOT_W = 543
PLOT_H = 810


def heatmap(label, columns):
    """One heat map panel with its own colour bar"""
    records = []
    for conc, series in zip(CONCS, columns):
        for t, v in zip(TIMES, series):
            records.append({"conc": conc, "time": t, "value": v})
    df = pd.DataFrame(records)

    cells = alt.Chart(df).mark_rect(
        stroke="#a0a0a0",
        strokeWidth=1.5
    ).encode(
        x=alt.X("conc:N", sort=CONCS, title=f"{label} (μg/mL)"),
        y=alt.Y("time:O", sort="ascending", title="Time (min)",
                axis=alt.Axis(values=TIME_TICKS)),
        color=alt.Color(
            "value:Q",
            title=None,
            scale=alt.Scale(domain=[0, 1.625, 3.25],
                            range=["#8ab8f5", "#ffffff", "#ff0000"],
                            interpolate="rgb", clamp=True),
            legend=alt.Legend(values=LEGEND_TICKS, format="d", labelOffset=20),
        ),
        tooltip=["conc", "time", "value"]
    )

    # black frame drawn over the cells, like the plot border in the figure
    frame = alt.Chart(pd.DataFrame({"frame": [0]})).mark_rect(
        fillOpacity=0,
        stroke="black",
        strokeWidth=3
    ).encode(
        x=alt.value(0), x2=alt.value(PLOT_W),
        y=alt.value(0), y2=alt.value(PLOT_H)
    )

    return alt.layer(cells, frame).properties(width=PLOT_W, height=PLOT_H)


def panel_row(panels):
    left = alt.hconcat(panels[0], panels[1], spacing=90).resolve_scale(
        color="independent").resolve_legend(color="independent")
    return alt.hconcat(left, panels[2], spacing=66).resolve_scale(
        color="independent").resolve_legend(color="independent")


top = panel_row([heatmap("PLLW", PLLW), heatmap("PLLE", PLLE), heatmap("PLLM", PLLM)])
bottom = panel_row([heatmap("PLSW", PLSW), heatmap("PLSE", PLSE), heatmap("PLSM", PLSM)])

chart = alt.vconcat(top, bottom, spacing=80).resolve_scale(
    color="independent"
).resolve_legend(
    color="independent"
).properties(
    padding={"left": 23, "top": 24, "right": 5, "bottom": 5}
).configure_view(
    stroke="black",
    strokeWidth=3
).configure_axis(
    labelFont=FONT,
    labelFontSize=42,
    labelFontWeight="bold",
    labelColor="black",
    titleFont=FONT,
    titleFontSize=55,
    titleFontWeight="bold",
    titleColor="black",
    tickColor="black",
    tickWidth=3,
    tickSize=24,
    domainColor="black",
    domainWidth=3,
    grid=False,
    zindex=1
).configure_axisX(
    labelAngle=0,
    labelPadding=12,
    titlePadding=41,
    titleFontSize=53
).configure_axisY(
    labelPadding=4,
    titlePadding=41,
    titleY=375
).configure_legend(
    orient="right",
    offset=66,
    padding=0,
    gradientLength=PLOT_H,
    gradientThickness=70,
    gradientStrokeColor="black",
    gradientStrokeWidth=3,
    labelFont=FONT,
    labelFontSize=48,
    labelColor="black"
)

chart.save("out.html", embed_options={"renderer": "svg", "actions": False})
